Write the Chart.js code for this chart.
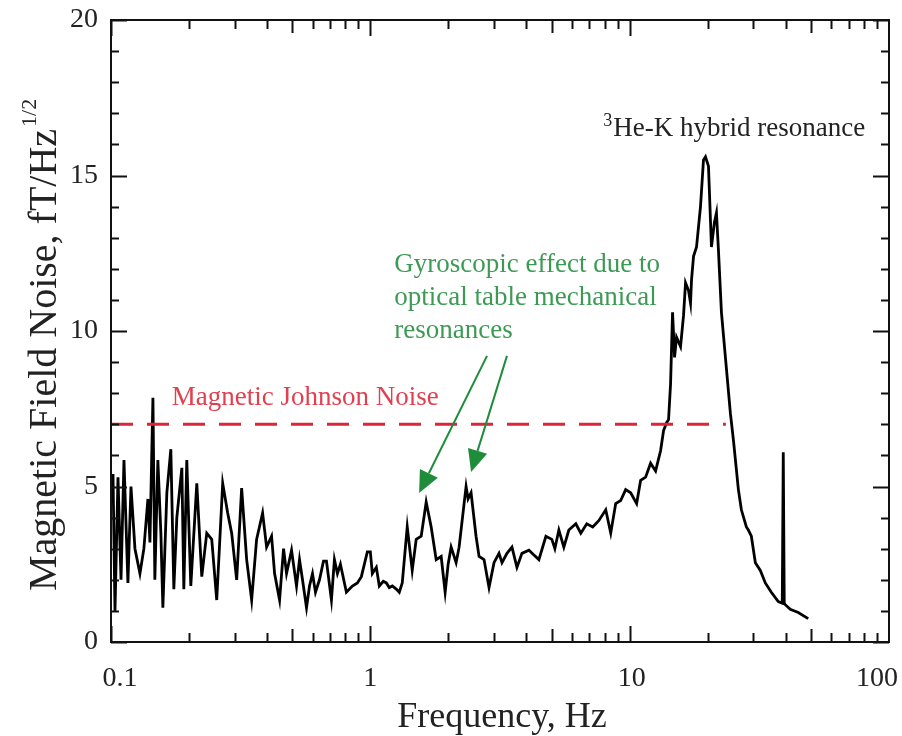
<!DOCTYPE html>
<html>
<head>
<meta charset="utf-8">
<script src="https://cdn.jsdelivr.net/npm/chart.js@4.4.1/dist/chart.umd.min.js"></script>
<style>
  html, body { margin: 0; padding: 0; background: #fff; }
  canvas { display: block; }
</style>
</head>
<body>
<canvas id="noiseChart" width="902" height="736"></canvas>
<script>
// Magnetic field noise spectrum
const freq = [
  0.1, 0.1018, 0.1036, 0.1064, 0.1093, 0.1122, 0.1162, 0.1194, 0.1237, 0.1293,
  0.1339, 0.1388, 0.1413, 0.1451, 0.1476, 0.1516, 0.1557, 0.1585, 0.1642, 0.1701,
  0.1747, 0.1794, 0.1876, 0.1909, 0.1960, 0.2031, 0.2142, 0.2239, 0.2340, 0.2446,
  0.2557, 0.2696, 0.2818, 0.2920, 0.3052, 0.3190, 0.3335, 0.3486, 0.3643, 0.3842,
  0.3981, 0.4161, 0.4274, 0.4467, 0.4628, 0.4752, 0.4968, 0.5192, 0.5332, 0.5476,
  0.5674, 0.5827, 0.5984, 0.6145, 0.6367, 0.6596, 0.6774, 0.7079, 0.7270, 0.7466,
  0.7667, 0.8086, 0.8528, 0.8913, 0.9234, 0.9738, 1.0, 1.018, 1.0546, 1.083,
  1.122, 1.1524, 1.1834, 1.2153, 1.2589, 1.2928, 1.3277, 1.3877, 1.4505, 1.5027,
  1.571, 1.6421, 1.7165, 1.7943, 1.8755, 1.9431, 1.9953, 2.049, 2.1418, 2.1995,
  2.2991, 2.34, 2.3818, 2.4459, 2.5566, 2.6255, 2.7444, 2.8687, 2.9985, 3.1343,
  3.2187, 3.3644, 3.5168, 3.676, 3.8424, 4.0887, 4.2735, 4.4668, 4.7532, 5.0119,
  5.1471, 5.333, 5.5745, 5.8269, 6.2004, 6.4813, 6.8325, 7.2028, 7.5999, 8.0862,
  8.4522, 8.8346, 9.2343, 9.6522, 10.089, 10.639, 11.022, 11.522, 12.042, 12.589,
  13.158, 13.513, 13.877, 14.125, 14.378, 14.635, 14.897, 15.163, 15.71, 16.134,
  16.423, 16.866, 17.166, 17.321, 17.631, 18.105, 18.755, 19.26, 19.604, 20.131,
  20.672, 21.228, 21.608, 21.995, 22.587, 23.4, 24.46, 25.119, 26.257, 26.964,
  28.184, 28.69, 29.461, 30.524, 31.904, 33.347, 35.168, 37.418, 38.765, 39.11,
  39.45, 39.811, 41.61, 44.67, 48.81
];
const noise = [
  4.5, 5.4, 1.0, 5.3, 2.0, 5.85, 1.9, 5.0, 3.0, 2.2,
  3.0, 4.6, 3.2, 7.85, 2.0, 5.85, 3.5, 1.1, 4.8, 6.2,
  1.7, 4.0, 5.6, 1.7, 5.85, 1.8, 5.1, 2.1, 3.5, 3.3,
  1.35, 5.1, 4.15, 3.5, 2.0, 4.95, 2.65, 1.35, 3.3, 4.15,
  3.05, 3.4, 2.2, 1.35, 3.0, 2.2, 2.95, 1.8, 2.65, 2.0,
  1.1, 1.8, 2.2, 1.6, 2.0, 2.6, 2.6, 1.35, 2.65, 2.2,
  2.5, 1.6, 1.8, 1.9, 2.1, 2.9, 2.9, 2.2, 2.4, 1.8,
  1.95, 1.9, 1.75, 1.8, 1.7, 1.6, 1.9, 3.7, 2.3, 3.3,
  3.4, 4.5, 3.7, 2.65, 2.75, 1.6, 2.5, 3.05, 2.55, 3.05,
  4.45, 5.0, 4.6, 4.8, 3.4, 2.75, 2.65, 1.75, 2.55, 2.85,
  2.55, 2.85, 3.05, 2.4, 2.85, 2.95, 2.8, 2.65, 3.4, 3.3,
  3.0, 3.6, 3.05, 3.6, 3.8, 3.5, 3.8, 3.7, 3.9, 4.25,
  3.5, 4.45, 4.55, 4.9, 4.8, 4.45, 5.2, 5.3, 5.75, 5.5,
  6.15, 6.8, 7.05, 7.15, 8.3, 10.6, 9.15, 9.8, 9.5, 10.5,
  11.55, 11.3, 10.9, 11.65, 12.4, 12.7, 14.0, 15.5, 15.6, 15.3,
  12.7, 13.5, 13.8, 12.6, 10.6, 9.15, 7.35, 6.5, 4.9, 4.25,
  3.7, 3.6, 3.4, 2.55, 2.3, 1.9, 1.6, 1.3, 1.25, 6.1,
  1.25, 1.2, 1.05, 0.95, 0.75
];

// Johnson noise level (dashed line)
const johnsonFreq = [0.1, 23.5];
const johnsonLevel = [7, 7];

const xTickLabels = [0.1, 1, 10, 100];
const yTickLabels = [0, 5, 10, 15, 20];

const SERIF = "'Liberation Serif', 'Times New Roman', serif";

// annotation anchors in data coordinates
const notes = {
  johnson: { x: 0.1716, y: 7.62 },
  gyro: { x: 1.237, y: 11.9 },
  hybrid: { x: 80.9, y: 16.27 },
  arrows: [
    { from: { x: 2.818, y: 9.2 }, to: { x: 1.542, y: 4.79 } },
    { from: { x: 3.364, y: 9.2 }, to: { x: 2.446, y: 5.47 } }
  ]
};
// nudges for the end labels of the x axis, like the original keeps them inside
const xLabelNudge = [9, 0, 2, -12];

function drawArrow(ctx, x0, y0, x1, y1) {
  const ang = Math.atan2(y1 - y0, x1 - x0);
  const head = 22, half = 10;
  const bx = x1 - head * Math.cos(ang), by = y1 - head * Math.sin(ang);
  ctx.beginPath();
  ctx.moveTo(x0, y0);
  ctx.lineTo(bx, by);
  ctx.stroke();
  ctx.beginPath();
  ctx.moveTo(x1, y1);
  ctx.lineTo(bx + half * Math.sin(ang), by - half * Math.cos(ang));
  ctx.lineTo(bx - half * Math.sin(ang), by + half * Math.cos(ang));
  ctx.closePath();
  ctx.fill();
}

const framePlugin = {
  id: 'frame',
  afterDraw(chart) {
    const { ctx, chartArea: a, scales: { x, y } } = chart;
    ctx.save();
    ctx.strokeStyle = '#111';
    ctx.lineWidth = 2;

    // inward ticks on x (bottom + top)
    ctx.beginPath();
    for (let e = -1; e <= 1; e++) {
      for (let k = 1; k <= 9; k++) {
        const v = k * Math.pow(10, e);
        const px = Math.round(x.getPixelForValue(v)) + 0.5;
        const len = k === 1 ? 16 : (k === 5 ? 13 : 9);
        ctx.moveTo(px, a.bottom); ctx.lineTo(px, a.bottom - len);
        ctx.moveTo(px, a.top); ctx.lineTo(px, a.top + len);
      }
    }
    // inward ticks on y (left + right)
    for (let v = 0; v <= 20; v++) {
      const py = Math.round(y.getPixelForValue(v)) + 0.5;
      const len = v % 5 === 0 ? 16 : 8;
      ctx.moveTo(a.left, py); ctx.lineTo(a.left + len, py);
      ctx.moveTo(a.right, py); ctx.lineTo(a.right - len, py);
    }
    ctx.stroke();
    ctx.strokeRect(a.left, a.top, a.right - a.left, a.bottom - a.top);

    // x tick labels
    ctx.fillStyle = '#222';
    ctx.font = '28px ' + SERIF;
    ctx.textAlign = 'center';
    ctx.textBaseline = 'alphabetic';
    xTickLabels.forEach((v, i) => {
      ctx.fillText(String(v), x.getPixelForValue(v) + xLabelNudge[i], a.bottom + 44);
    });

    // axis titles
    ctx.font = '36px ' + SERIF;
    ctx.fillText('Frequency, Hz', 502, 727);

    ctx.save();
    ctx.translate(56, 591);
    ctx.rotate(-Math.PI / 2);
    ctx.textAlign = 'left';
    ctx.font = '40px ' + SERIF;
    const yTitle = 'Magnetic Field Noise, fT/Hz';
    ctx.fillText(yTitle, 0, 0);
    const w = ctx.measureText(yTitle).width;
    ctx.font = '22px ' + SERIF;
    ctx.fillText('1/2', w + 2, -20);
    ctx.restore();

    // annotations
    ctx.textAlign = 'left';
    ctx.font = '27px ' + SERIF;
    ctx.fillStyle = '#e0404f';
    ctx.fillText('Magnetic Johnson Noise',
      x.getPixelForValue(notes.johnson.x), y.getPixelForValue(notes.johnson.y));

    ctx.fillStyle = '#3d9a55';
    const gx = x.getPixelForValue(notes.gyro.x);
    const gy = y.getPixelForValue(notes.gyro.y);
    ['Gyroscopic effect due to', 'optical table mechanical', 'resonances']
      .forEach((line, i) => ctx.fillText(line, gx, gy + i * 33));

    ctx.fillStyle = '#222';
    const hx = x.getPixelForValue(notes.hybrid.x);
    const hy = y.getPixelForValue(notes.hybrid.y);
    ctx.textAlign = 'right';
    ctx.fillText('He-K hybrid resonance', hx, hy);
    const hw = ctx.measureText('He-K hybrid resonance').width;
    ctx.font = '18px ' + SERIF;
    ctx.fillText('3', hx - hw - 1, hy - 10);

    ctx.strokeStyle = '#1f8c3c';
    ctx.fillStyle = '#1f8c3c';
    ctx.lineWidth = 2;
    notes.arrows.forEach(ar => drawArrow(ctx,
      x.getPixelForValue(ar.from.x), y.getPixelForValue(ar.from.y),
      x.getPixelForValue(ar.to.x), y.getPixelForValue(ar.to.y)));
    ctx.restore();
  }
};

new Chart(document.getElementById('noiseChart'), {
  type: 'line',
  data: {
    datasets: [
      {
        label: 'Magnetic Johnson Noise',
        data: johnsonFreq.map((f, i) => ({ x: f, y: johnsonLevel[i] })),
        borderColor: '#d9263a',
        borderWidth: 3,
        borderDash: [22, 14],
        pointRadius: 0,
        fill: false
      },
      {
        label: 'Noise',
        data: freq.map((f, i) => ({ x: f, y: noise[i] })),
        borderColor: '#000',
        borderWidth: 2.8,
        pointRadius: 0,
        tension: 0,
        fill: false
      }
    ]
  },
  options: {
    responsive: false,
    animation: false,
    devicePixelRatio: 1,
    layout: { padding: { left: 0, top: 20, right: 13, bottom: 0 } },
    plugins: { legend: { display: false }, tooltip: { enabled: false } },
    scales: {
      x: {
        type: 'logarithmic',
        min: 0.1,
        max: 100,
        grid: { display: false, drawTicks: false },
        border: { display: false },
        afterBuildTicks: s => { s.ticks = xTickLabels.map(v => ({ value: v })); },
        afterFit: s => { s.height = 94; s.paddingLeft = 0; s.paddingRight = 0; },
        ticks: { display: false, autoSkip: false, maxRotation: 0 }
      },
      y: {
        min: 0,
        max: 20,
        grid: { display: false, drawTicks: false },
        border: { display: false },
        afterBuildTicks: s => { s.ticks = yTickLabels.map(v => ({ value: v })); },
        afterFit: s => { s.width = 111; s.paddingTop = 0; s.paddingBottom = 0; },
        ticks: {
          padding: 13,
          color: '#222',
          font: { family: SERIF, size: 28 }
        }
      }
    }
  },
  plugins: [framePlugin]
});
</script>
</body>
</html>
